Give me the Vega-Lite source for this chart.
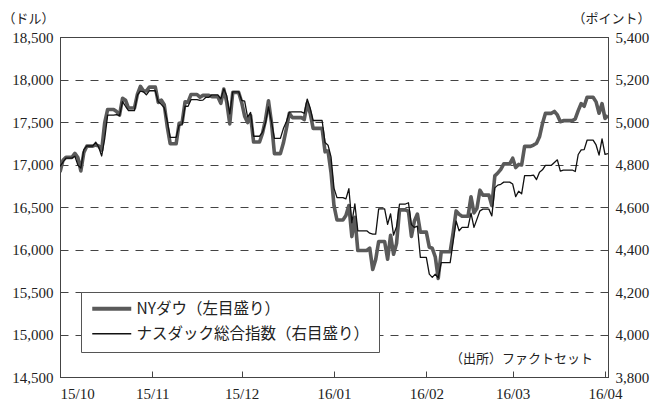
{
"$schema": "https://vega.github.io/schema/vega-lite/v6.json",
"width": 548, "height": 340,
"autosize": {"type": "none"},
"padding": {"left": 60, "top": 37, "right": 47, "bottom": 23},
"background": "white",
"config": {
  "font": "Liberation Serif, Noto Sans CJK JP",
  "view": {"stroke": "#444", "strokeWidth": 1},
  "axis": {"domainColor": "#444", "tickColor": "#444", "labelColor": "#222", "labelFontSize": 15, "labelFont": "Liberation Serif, Noto Sans CJK JP", "titleFont": "Noto Sans CJK JP", "titleFontWeight": "normal", "titleFontSize": 13, "titleColor": "#222"}
},
"data": {"format": {"parse": {"d": "date:'%Y-%m-%d'"}}, "values": [
{"d":"2015-10-07","dow":16912,"nas":4791},{"d":"2015-10-08","dow":17050,"nas":4811},{"d":"2015-10-09","dow":17084,"nas":4830},{"d":"2015-10-10","dow":17084,"nas":4830},{"d":"2015-10-11","dow":17084,"nas":4830},{"d":"2015-10-12","dow":17131,"nas":4839},{"d":"2015-10-13","dow":17082,"nas":4797},{"d":"2015-10-14","dow":16925,"nas":4783},{"d":"2015-10-15","dow":17141,"nas":4870},{"d":"2015-10-16","dow":17216,"nas":4887},{"d":"2015-10-17","dow":17216,"nas":4887},{"d":"2015-10-18","dow":17216,"nas":4887},{"d":"2015-10-19","dow":17230,"nas":4905},{"d":"2015-10-20","dow":17218,"nas":4881},{"d":"2015-10-21","dow":17169,"nas":4840},{"d":"2015-10-22","dow":17490,"nas":4920},{"d":"2015-10-23","dow":17647,"nas":5032},{"d":"2015-10-24","dow":17647,"nas":5032},{"d":"2015-10-25","dow":17647,"nas":5032},{"d":"2015-10-26","dow":17623,"nas":5035},{"d":"2015-10-27","dow":17582,"nas":5030},{"d":"2015-10-28","dow":17780,"nas":5096},{"d":"2015-10-29","dow":17756,"nas":5074},{"d":"2015-10-30","dow":17664,"nas":5054},{"d":"2015-10-31","dow":17664,"nas":5054},
{"d":"2015-11-01","dow":17664,"nas":5054},{"d":"2015-11-02","dow":17829,"nas":5127},{"d":"2015-11-03","dow":17919,"nas":5145},{"d":"2015-11-04","dow":17868,"nas":5142},{"d":"2015-11-05","dow":17864,"nas":5128},{"d":"2015-11-06","dow":17910,"nas":5147},{"d":"2015-11-07","dow":17910,"nas":5147},{"d":"2015-11-08","dow":17910,"nas":5147},{"d":"2015-11-09","dow":17731,"nas":5095},{"d":"2015-11-10","dow":17758,"nas":5083},{"d":"2015-11-11","dow":17703,"nas":5067},{"d":"2015-11-12","dow":17449,"nas":5005},{"d":"2015-11-13","dow":17245,"nas":4928},{"d":"2015-11-14","dow":17245,"nas":4928},{"d":"2015-11-15","dow":17245,"nas":4928},{"d":"2015-11-16","dow":17484,"nas":4985},{"d":"2015-11-17","dow":17490,"nas":4986},{"d":"2015-11-18","dow":17738,"nas":5075},{"d":"2015-11-19","dow":17733,"nas":5074},{"d":"2015-11-20","dow":17824,"nas":5105},{"d":"2015-11-21","dow":17824,"nas":5105},{"d":"2015-11-22","dow":17824,"nas":5105},{"d":"2015-11-23","dow":17792,"nas":5102},{"d":"2015-11-24","dow":17813,"nas":5103},{"d":"2015-11-25","dow":17813,"nas":5116},{"d":"2015-11-26","dow":17813,"nas":5116},{"d":"2015-11-27","dow":17798,"nas":5128},{"d":"2015-11-28","dow":17798,"nas":5128},{"d":"2015-11-29","dow":17798,"nas":5128},{"d":"2015-11-30","dow":17720,"nas":5109},
{"d":"2015-12-01","dow":17888,"nas":5156},{"d":"2015-12-02","dow":17730,"nas":5123},{"d":"2015-12-03","dow":17478,"nas":5038},{"d":"2015-12-04","dow":17848,"nas":5142},{"d":"2015-12-05","dow":17848,"nas":5142},{"d":"2015-12-06","dow":17848,"nas":5142},{"d":"2015-12-07","dow":17731,"nas":5102},{"d":"2015-12-08","dow":17568,"nas":5098},{"d":"2015-12-09","dow":17493,"nas":5023},{"d":"2015-12-10","dow":17575,"nas":5045},{"d":"2015-12-11","dow":17265,"nas":4933},{"d":"2015-12-12","dow":17265,"nas":4933},{"d":"2015-12-13","dow":17265,"nas":4933},{"d":"2015-12-14","dow":17368,"nas":4952},{"d":"2015-12-15","dow":17525,"nas":4995},{"d":"2015-12-16","dow":17750,"nas":5071},{"d":"2015-12-17","dow":17495,"nas":5003},{"d":"2015-12-18","dow":17128,"nas":4923},{"d":"2015-12-19","dow":17128,"nas":4923},{"d":"2015-12-20","dow":17128,"nas":4923},{"d":"2015-12-21","dow":17252,"nas":4969},{"d":"2015-12-22","dow":17418,"nas":5001},{"d":"2015-12-23","dow":17603,"nas":5046},{"d":"2015-12-24","dow":17552,"nas":5048},{"d":"2015-12-25","dow":17552,"nas":5048},{"d":"2015-12-26","dow":17552,"nas":5048},{"d":"2015-12-27","dow":17552,"nas":5048},{"d":"2015-12-28","dow":17528,"nas":5041},{"d":"2015-12-29","dow":17720,"nas":5108},{"d":"2015-12-30","dow":17603,"nas":5066},{"d":"2015-12-31","dow":17425,"nas":5007},
{"d":"2016-01-01","dow":17425,"nas":5007},{"d":"2016-01-02","dow":17425,"nas":5007},{"d":"2016-01-03","dow":17425,"nas":5007},{"d":"2016-01-04","dow":17149,"nas":4903},{"d":"2016-01-05","dow":17158,"nas":4891},{"d":"2016-01-06","dow":16907,"nas":4836},{"d":"2016-01-07","dow":16515,"nas":4689},{"d":"2016-01-08","dow":16347,"nas":4644},{"d":"2016-01-09","dow":16347,"nas":4644},{"d":"2016-01-10","dow":16347,"nas":4644},{"d":"2016-01-11","dow":16399,"nas":4638},{"d":"2016-01-12","dow":16516,"nas":4686},{"d":"2016-01-13","dow":16152,"nas":4526},{"d":"2016-01-14","dow":16380,"nas":4615},{"d":"2016-01-15","dow":15988,"nas":4488},{"d":"2016-01-16","dow":15988,"nas":4488},{"d":"2016-01-17","dow":15988,"nas":4488},{"d":"2016-01-18","dow":15988,"nas":4488},{"d":"2016-01-19","dow":16016,"nas":4477},{"d":"2016-01-20","dow":15766,"nas":4472},{"d":"2016-01-21","dow":15882,"nas":4472},{"d":"2016-01-22","dow":16094,"nas":4591},{"d":"2016-01-23","dow":16094,"nas":4591},{"d":"2016-01-24","dow":16094,"nas":4591},{"d":"2016-01-25","dow":15886,"nas":4518},{"d":"2016-01-26","dow":16167,"nas":4568},{"d":"2016-01-27","dow":15944,"nas":4468},{"d":"2016-01-28","dow":16069,"nas":4507},{"d":"2016-01-29","dow":16466,"nas":4614},{"d":"2016-01-30","dow":16466,"nas":4614},{"d":"2016-01-31","dow":16466,"nas":4614},
{"d":"2016-02-01","dow":16449,"nas":4620},{"d":"2016-02-02","dow":16154,"nas":4517},{"d":"2016-02-03","dow":16337,"nas":4504},{"d":"2016-02-04","dow":16417,"nas":4510},{"d":"2016-02-05","dow":16205,"nas":4363},{"d":"2016-02-06","dow":16205,"nas":4363},{"d":"2016-02-07","dow":16205,"nas":4363},{"d":"2016-02-08","dow":16027,"nas":4284},{"d":"2016-02-09","dow":16014,"nas":4269},{"d":"2016-02-10","dow":15914,"nas":4284},{"d":"2016-02-11","dow":15660,"nas":4267},{"d":"2016-02-12","dow":15974,"nas":4338},{"d":"2016-02-13","dow":15974,"nas":4338},{"d":"2016-02-14","dow":15974,"nas":4338},{"d":"2016-02-15","dow":15974,"nas":4338},{"d":"2016-02-16","dow":16196,"nas":4436},{"d":"2016-02-17","dow":16454,"nas":4534},{"d":"2016-02-18","dow":16414,"nas":4488},{"d":"2016-02-19","dow":16392,"nas":4504},{"d":"2016-02-20","dow":16392,"nas":4504},{"d":"2016-02-21","dow":16392,"nas":4504},{"d":"2016-02-22","dow":16620,"nas":4571},{"d":"2016-02-23","dow":16431,"nas":4504},{"d":"2016-02-24","dow":16485,"nas":4543},{"d":"2016-02-25","dow":16698,"nas":4582},{"d":"2016-02-26","dow":16640,"nas":4590},{"d":"2016-02-27","dow":16640,"nas":4590},{"d":"2016-02-28","dow":16640,"nas":4590},{"d":"2016-02-29","dow":16517,"nas":4558},
{"d":"2016-03-01","dow":16866,"nas":4690},{"d":"2016-03-02","dow":16900,"nas":4703},{"d":"2016-03-03","dow":16944,"nas":4707},{"d":"2016-03-04","dow":17007,"nas":4717},{"d":"2016-03-05","dow":17007,"nas":4717},{"d":"2016-03-06","dow":17007,"nas":4717},{"d":"2016-03-07","dow":17074,"nas":4708},{"d":"2016-03-08","dow":16964,"nas":4649},{"d":"2016-03-09","dow":17001,"nas":4674},{"d":"2016-03-10","dow":16995,"nas":4662},{"d":"2016-03-11","dow":17213,"nas":4748},{"d":"2016-03-12","dow":17213,"nas":4748},{"d":"2016-03-13","dow":17213,"nas":4748},{"d":"2016-03-14","dow":17229,"nas":4750},{"d":"2016-03-15","dow":17251,"nas":4729},{"d":"2016-03-16","dow":17326,"nas":4764},{"d":"2016-03-17","dow":17481,"nas":4775},{"d":"2016-03-18","dow":17602,"nas":4796},{"d":"2016-03-19","dow":17602,"nas":4796},{"d":"2016-03-20","dow":17602,"nas":4796},{"d":"2016-03-21","dow":17624,"nas":4809},{"d":"2016-03-22","dow":17583,"nas":4822},{"d":"2016-03-23","dow":17503,"nas":4769},{"d":"2016-03-24","dow":17516,"nas":4774},{"d":"2016-03-25","dow":17516,"nas":4774},{"d":"2016-03-26","dow":17516,"nas":4774},{"d":"2016-03-27","dow":17516,"nas":4774},{"d":"2016-03-28","dow":17536,"nas":4767},{"d":"2016-03-29","dow":17634,"nas":4847},{"d":"2016-03-30","dow":17717,"nas":4869},{"d":"2016-03-31","dow":17685,"nas":4870},
{"d":"2016-04-01","dow":17792,"nas":4915},{"d":"2016-04-02","dow":17792,"nas":4915},{"d":"2016-04-03","dow":17792,"nas":4915},{"d":"2016-04-04","dow":17737,"nas":4892},{"d":"2016-04-05","dow":17603,"nas":4844},{"d":"2016-04-06","dow":17716,"nas":4921},{"d":"2016-04-07","dow":17542,"nas":4848},{"d":"2016-04-08","dow":17577,"nas":4851}
]},
"layer": [
  {
    "layer": [
      {
        "mark": {"type": "line", "strokeWidth": 3.6, "strokeJoin": "round", "clip": true},
        "encoding": {
          "x": {"field": "d", "type": "temporal",
                "scale": {"domain": [{"year": 2015, "month": 10, "date": 7}, {"year": 2016, "month": 4, "date": 8}]},
                "axis": {"title": null, "format": "%y/%m", "grid": false, "tickSize": -6, "labelPadding": 15,
                         "values": [{"year": 2015, "month": 10, "date": 7}, {"year": 2015, "month": 11, "date": 7}, {"year": 2015, "month": 12, "date": 7}, {"year": 2016, "month": 1, "date": 7}, {"year": 2016, "month": 2, "date": 7}, {"year": 2016, "month": 3, "date": 7}, {"year": 2016, "month": 4, "date": 7}]}},
          "y": {"field": "dow", "type": "quantitative",
                "scale": {"domain": [14500, 18500], "nice": false, "zero": false},
                "axis": {"orient": "left", "values": [14500, 15000, 15500, 16000, 16500, 17000, 17500, 18000, 18500], "format": ",d",
                         "grid": true, "gridDash": [8, 7], "gridColor": "#444", "gridWidth": 1, "tickSize": -6, "labelPadding": 13,
                         "title": "（ドル）", "titleAngle": 0, "titleAlign": "left", "titleBaseline": "middle", "titleX": -58, "titleY": -19}},
          "color": {"datum": "NYダウ（左目盛り）", "type": "nominal",
                    "scale": {"domain": ["NYダウ（左目盛り）", "ナスダック総合指数（右目盛り）"], "range": ["#5a5a5a", "#111111"]},
                    "legend": {"orient": "none", "legendX": 21, "legendY": 255, "title": null, "strokeColor": "#555", "fillColor": "white",
                               "padding": 9, "symbolType": "stroke", "symbolSize": 1521, "symbolStrokeWidth": 3, "rowPadding": 8,
                               "labelFont": "Noto Sans CJK JP", "labelFontSize": 15.5, "labelLimit": 400, "labelColor": "#222", "labelOffset": 17, "symbolOffset": 14,
                               "encode": {"symbols": {"update": {"strokeWidth": {"signal": "datum.value === 'NYダウ（左目盛り）' ? 4 : 1.4"}}}}}}
        }
      },
      {
        "data": {"values": [{"note": "（出所）ファクトセット", "d": "2016-04-03", "v": 14712}], "format": {"parse": {"d": "date:'%Y-%m-%d'"}}},
        "mark": {"type": "text", "font": "Noto Sans CJK JP", "fontSize": 13, "align": "right", "baseline": "middle", "color": "#222"},
        "encoding": {
          "x": {"field": "d", "type": "temporal"},
          "y": {"field": "v", "type": "quantitative"},
          "text": {"field": "note"}
        }
      }
    ]
  },
  {
    "mark": {"type": "line", "strokeWidth": 1.3, "strokeJoin": "round", "clip": true},
    "encoding": {
      "x": {"field": "d", "type": "temporal"},
      "y": {"field": "nas", "type": "quantitative",
            "scale": {"domain": [3800, 5400], "nice": false, "zero": false},
            "axis": {"orient": "right", "values": [3800, 4000, 4200, 4400, 4600, 4800, 5000, 5200, 5400], "format": ",d",
                     "grid": false, "tickSize": -6, "labelPadding": 13,
                     "title": "（ポイント）", "titleAngle": 0, "titleAlign": "right", "titleBaseline": "middle", "titleX": 42, "titleY": -19}},
      "color": {"datum": "ナスダック総合指数（右目盛り）", "type": "nominal"}
    }
  }
],
"resolve": {"scale": {"y": "independent"}}
}
